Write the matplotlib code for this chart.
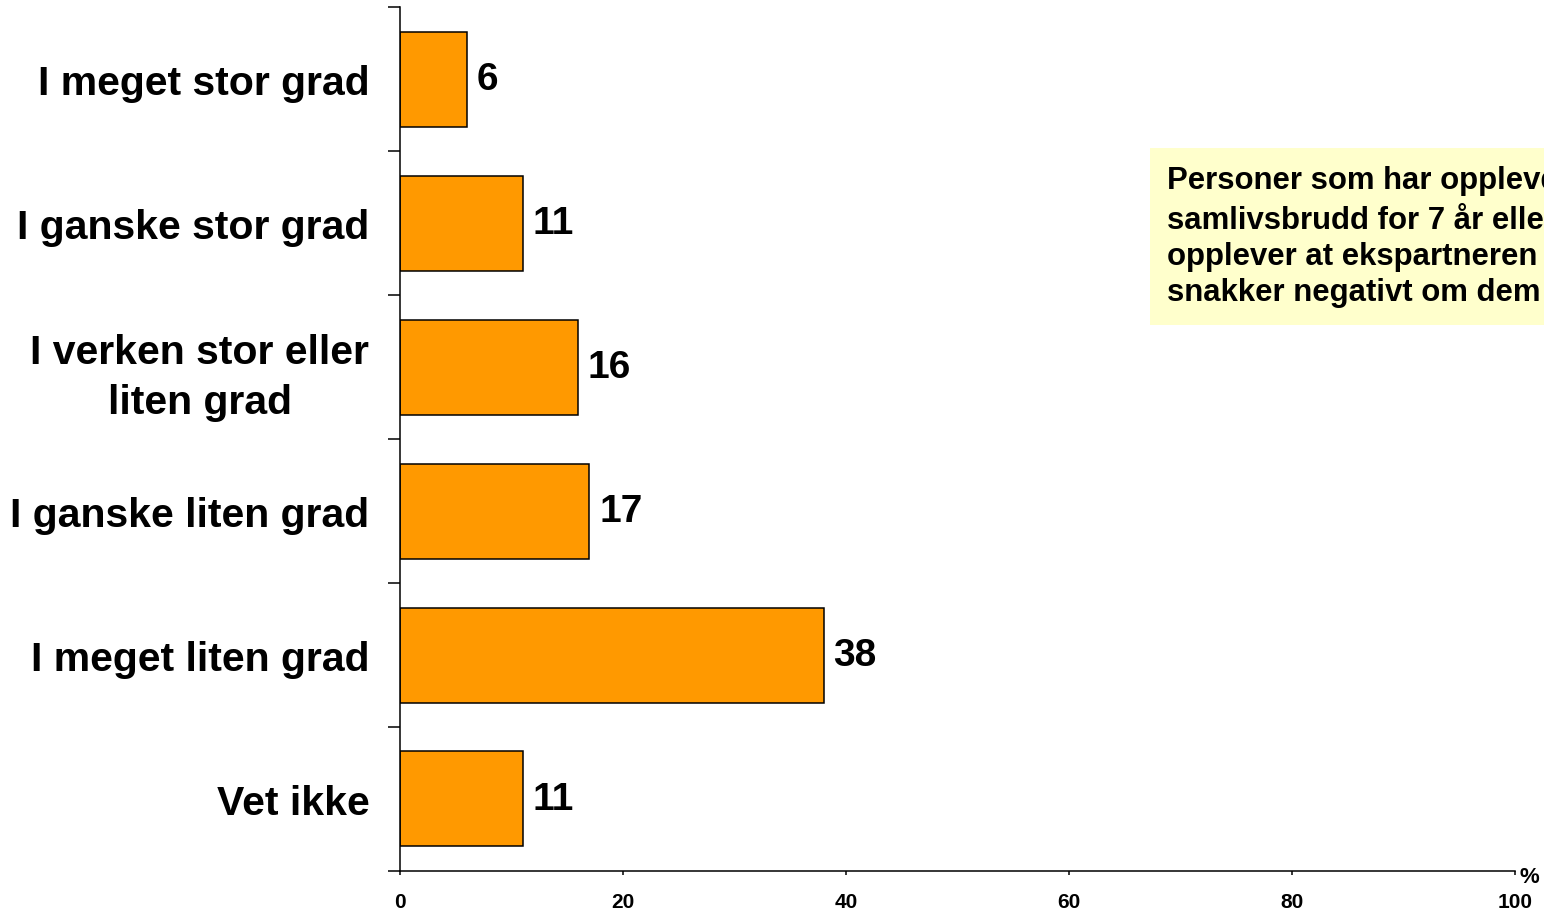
import matplotlib.pyplot as plt
import numpy as np

# Données
categories = ['I meget stor grad', 'I ganske stor grad', 'I verken stor eller\nliten grad',
              'I ganske liten grad', 'I meget liten grad', 'Vet ikke']
valeurs = [6, 11, 16, 17, 38, 11]
xticks = [0, 20, 40, 60, 80, 100]
note = ('Personer som har opplevd\n'
        'samlivsbrudd for 7 år eller mer siden og\n'
        'opplever at ekspartneren\n'
        'snakker negativt om dem')

plt.rcParams['font.family'] = ['Liberation Sans', 'DejaVu Sans']
plt.rcParams['font.weight'] = 'bold'

fig = plt.figure(figsize=(15.44, 9.12), dpi=100)
ax = fig.add_axes([0.259, 0.0439, 0.722, 0.947])

y = np.arange(len(categories))
bars = ax.barh(y, valeurs, height=0.66, color='#FF9900', edgecolor='black', linewidth=1.1)

for yi, v in zip(y, valeurs):
    ax.annotate(str(v), (v, yi), xytext=(7, 0), textcoords='offset points',
                ha='left', va='center', fontsize=28, fontweight='bold')

ax.set_xlim(0, 100)
ax.set_ylim(len(categories) - 0.5, -0.5)

ax.set_yticks(y)
ax.set_yticklabels(categories, fontsize=29.5, fontweight='bold', multialignment='center',
                   linespacing=1.38)
ax.tick_params(axis='y', which='major', length=0, pad=22)
ax.set_yticks(np.arange(len(categories) + 1) - 0.5, minor=True)
ax.tick_params(axis='y', which='minor', length=9, width=1.1, direction='out')

ax.set_xticks(xticks)
ax.set_xticklabels([str(t) for t in xticks], fontsize=15, fontweight='bold')
ax.tick_params(axis='x', length=3, width=1.1, direction='out', pad=12)

for s in ['top', 'right']:
    ax.spines[s].set_visible(False)
for s in ['left', 'bottom']:
    ax.spines[s].set_linewidth(1.1)

ax.text(1.004, -0.006, '%', transform=ax.transAxes, ha='left', va='center',
        fontsize=16, fontweight='bold')

fig.text(0.7558, 0.818, note, ha='left', va='top', fontsize=22.4, fontweight='bold',
         linespacing=1.27,
         bbox=dict(boxstyle='square,pad=0.55', facecolor='#FFFFCC', edgecolor='none'))

plt.savefig('out.png', dpi=100)
